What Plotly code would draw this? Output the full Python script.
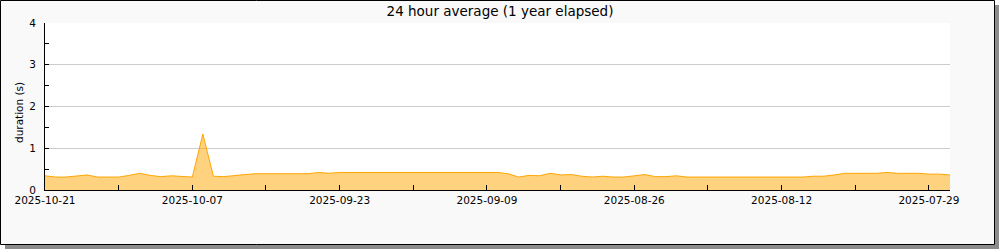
import plotly.graph_objects as go
import pandas as pd

# ---- data ----
start_date = "2025-10-21"
n_days = 87
durations = [
    0.34, 0.31, 0.31, 0.33, 0.36, 0.31, 0.31, 0.31, 0.35, 0.40,
    0.35, 0.32, 0.34, 0.32, 0.31, 1.34, 0.33, 0.32, 0.35, 0.37,
    0.39, 0.39, 0.39, 0.39, 0.39, 0.39, 0.42, 0.40, 0.42, 0.42,
    0.42, 0.42, 0.42, 0.42, 0.42, 0.42, 0.42, 0.42, 0.42, 0.42,
    0.42, 0.42, 0.42, 0.42, 0.39, 0.31, 0.35, 0.34, 0.40, 0.36,
    0.37, 0.33, 0.31, 0.33, 0.31, 0.31, 0.34, 0.37, 0.32, 0.32,
    0.34, 0.31, 0.31, 0.31, 0.31, 0.31, 0.31, 0.31, 0.31, 0.31,
    0.31, 0.31, 0.31, 0.33, 0.33, 0.36, 0.40, 0.40, 0.40, 0.40,
    0.42, 0.40, 0.40, 0.40, 0.38, 0.38, 0.36,
]
dates = pd.date_range(end=start_date, periods=n_days, freq="D")[::-1]
title_text = "24 hour average (1 year elapsed)"
y_title = "duration (s)"
x_range = ["2025-10-21", "2025-07-27"]
y_ticks = [0, 1, 2, 3, 4]

FONT = "DejaVu Sans"
L, R, T, B = 45, 50, 23, 60
W, H = 1000, 250
PW, PH = W - L - R, H - T - B


def px_x(px):
    return (px - L) / PW


def px_y(py):
    return (H - B - py) / PH


fig = go.Figure()
fig.add_trace(go.Scatter(
    x=dates, y=durations, mode="lines",
    line=dict(color="#ffa500", width=1),
    fill="tozeroy", fillcolor="rgba(255,165,0,0.5)",
    hoverinfo="skip", showlegend=False,
))

shapes = [
    dict(type="rect", xref="paper", yref="paper", layer="below",
         x0=px_x(5), x1=px_x(999), y0=px_y(249), y1=px_y(5),
         fillcolor="#8c8c8c", line=dict(width=0)),
    dict(type="rect", xref="paper", yref="paper", layer="below",
         x0=px_x(0.5), x1=px_x(994.5), y0=px_y(244.5), y1=px_y(0.5),
         fillcolor="#f9f9f9", line=dict(color="black", width=1)),
    dict(type="rect", xref="paper", yref="paper", layer="below",
         x0=0, x1=1, y0=0, y1=1,
         fillcolor="white", line=dict(width=0)),
]

fig.update_layout(
    width=W, height=H,
    margin=dict(l=L, r=R, t=T, b=B, pad=0),
    paper_bgcolor="white", plot_bgcolor="white",
    font=dict(family=FONT, size=10.5, color="black"),
    title=dict(text=title_text, x=0.5, xref="container", xanchor="center",
               y=1 - 11 / H, yref="container", yanchor="middle",
               font=dict(family=FONT, size=13.5, color="black")),
    shapes=shapes,
    annotations=[dict(text=y_title, textangle=-90, xref="paper", yref="paper",
                      x=px_x(19), y=px_y(113), xanchor="center", yanchor="middle",
                      showarrow=False, font=dict(family=FONT, size=10.5, color="black"))],
    xaxis=dict(
        type="date", range=x_range, autorange=False,
        tickmode="linear", tick0="2025-10-21", dtick=14 * 86400000,
        tickformat="%Y-%m-%d", ticks="inside", ticklen=5, tickcolor="black",
        showline=True, linecolor="black", linewidth=1,
        showgrid=False, zeroline=False,
        minor=dict(tick0="2025-10-21", dtick=7 * 86400000, ticks="inside",
                   ticklen=5, tickcolor="black", showgrid=False),
        tickfont=dict(family=FONT, size=10.5, color="black"),
    ),
    yaxis=dict(
        range=[0, 4], autorange=False, tickvals=y_ticks,
        ticks="inside", ticklen=4, tickcolor="black",
        showline=True, linecolor="black", linewidth=1,
        showgrid=True, gridcolor="#cccccc", gridwidth=1, zeroline=False,
        minor=dict(dtick=0.5, ticks="inside", ticklen=4, tickcolor="black", showgrid=False),
        ticklabelstandoff=6,
        tickfont=dict(family=FONT, size=10.5, color="black"),
    ),
)

fig.write_html("out.html", config={"displayModeBar": False})
